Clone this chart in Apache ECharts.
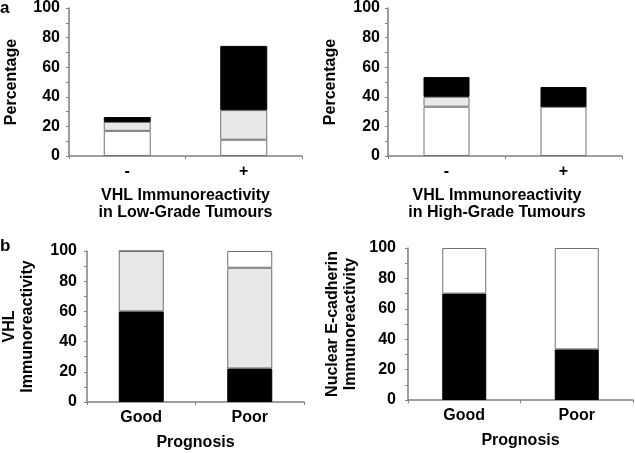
<!DOCTYPE html>
<html>
<head>
<meta charset="utf-8">
<script src="https://cdn.jsdelivr.net/npm/echarts@6/dist/echarts.min.js"></script>
<style>
  html, body { margin: 0; padding: 0; background: #fff; }
  #chart { width: 635px; height: 453px; }
</style>
</head>
<body>
<div id="chart"></div>
<script>
// panel a, left: VHL in low-grade tumours
const lowCats = ['-', '+'];
const lowWhite = [17, 11];
const lowGrey = [6, 20];
const lowBlack = [3.3, 43.4];

// panel a, right: VHL in high-grade tumours
const highCats = ['-', '+'];
const highWhite = [33.3, 33.3];
const highGrey = [6.7, 0];
const highBlack = [13.3, 13.3];

// panel b, left: VHL vs prognosis
const progCats = ['Good', 'Poor'];
const vhlBlack = [60, 22.2];
const vhlGrey = [40, 66.7];
const vhlWhite = [0, 11.1];

// panel b, right: nuclear E-cadherin vs prognosis
const ecadBlack = [70, 33.3];
const ecadWhite = [30, 66.7];

const yTicks = [0, 20, 40, 60, 80, 100];

const FONT = '"Liberation Sans", Arial, sans-serif';
const AXIS_GREY = '#808080';
const FILL = { white: '#ffffff', grey: '#e8e8e8', black: '#000000' };

const grids = [
  { left: 69, top: 7, width: 233, height: 149 },
  { left: 388, top: 7, width: 234, height: 149 },
  { left: 78, top: 251, width: 226, height: 151 },
  { left: 408, top: 248, width: 225, height: 152 }
];

function xAxis(idx, cats, name, nameGap, pad) {
  return {
    type: 'category', gridIndex: idx, data: cats,
    name: name, nameLocation: 'middle', nameGap: nameGap,
    nameTextStyle: { fontFamily: FONT, fontWeight: 'bold', fontSize: 16, color: '#000', lineHeight: 17, padding: pad || 0 },
    axisLine: { lineStyle: { color: AXIS_GREY, width: 1.5 } },
    axisTick: { show: true, length: 3, lineStyle: { color: AXIS_GREY } },
    axisLabel: { fontFamily: FONT, fontWeight: 'bold', fontSize: 16, color: '#000', margin: 8 }
  };
}

function yAxis(idx, name, nameGap, margin) {
  return {
    type: 'value', gridIndex: idx, min: 0, max: 100, interval: 20,
    name: name, nameLocation: 'middle', nameGap: nameGap, nameRotate: 90,
    nameTextStyle: { fontFamily: FONT, fontWeight: 'bold', fontSize: 16, color: '#000', lineHeight: 18 },
    axisLine: { show: true, lineStyle: { color: AXIS_GREY, width: 1.5 } },
    axisTick: { show: true, length: 3, lineStyle: { color: AXIS_GREY } },
    minorTick: { show: true, splitNumber: 2, length: 3, lineStyle: { color: AXIS_GREY } },
    splitLine: { show: false },
    axisLabel: {
      fontFamily: FONT, fontWeight: 'bold', fontSize: 16, color: '#000', margin: margin,
      formatter: v => (yTicks.indexOf(v) >= 0 ? String(v) : '')
    }
  };
}

function bar(idx, stack, data, fill, width) {
  return {
    type: 'bar', xAxisIndex: idx, yAxisIndex: idx, stack: stack,
    data: data, barWidth: width, silent: true,
    itemStyle: { color: FILL[fill], borderColor: fill === 'black' ? '#000' : '#707070', borderWidth: 1 }
  };
}

const option = {
  animation: false,
  backgroundColor: '#fff',
  grid: grids,
  xAxis: [
    xAxis(0, lowCats, 'VHL Immunoreactivity\nin Low-Grade Tumours', 31),
    xAxis(1, highCats, 'VHL Immunoreactivity\nin High-Grade Tumours', 31, [0, 16, 0, 0]),
    xAxis(2, progCats, 'Prognosis', 32),
    xAxis(3, progCats, 'Prognosis', 32)
  ],
  yAxis: [
    yAxis(0, 'Percentage', 48, 9),
    yAxis(1, 'Percentage', 48, 8),
    yAxis(2, 'VHL\nImmunoreactivity', 50, 10),
    yAxis(3, 'Nuclear E-cadherin\nImmunoreactivity', 48, 12)
  ],
  series: [
    bar(0, 'a', lowWhite, 'white', 47),
    bar(0, 'a', lowGrey, 'grey', 47),
    bar(0, 'a', lowBlack, 'black', 47),
    bar(1, 'b', highWhite, 'white', 46),
    bar(1, 'b', highGrey, 'grey', 46),
    bar(1, 'b', highBlack, 'black', 46),
    bar(2, 'c', vhlBlack, 'black', 45),
    bar(2, 'c', vhlGrey, 'grey', 45),
    bar(2, 'c', vhlWhite, 'white', 45),
    bar(3, 'd', ecadBlack, 'black', 44),
    bar(3, 'd', ecadWhite, 'white', 44)
  ],
  graphic: [
    { type: 'text', left: 0, top: 0, style: { text: 'a', font: 'bold 17px ' + FONT, fill: '#000' } },
    { type: 'text', left: 0, top: 238, style: { text: 'b', font: 'bold 17px ' + FONT, fill: '#000' } }
  ]
};

const chart = echarts.init(document.getElementById('chart'), null, { renderer: 'canvas' });
chart.setOption(option);
</script>
</body>
</html>
